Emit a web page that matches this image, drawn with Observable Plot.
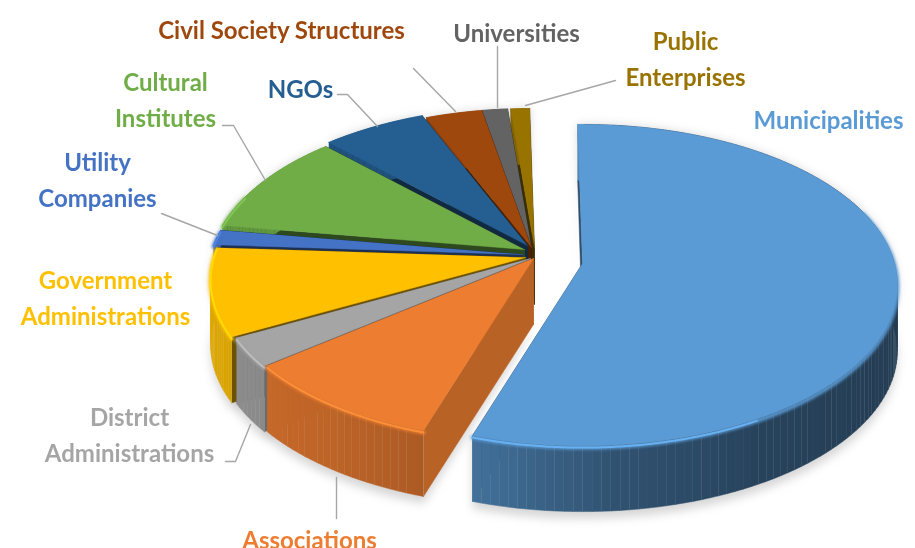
<!DOCTYPE html>
<html>
<head>
<meta charset="utf-8">
<script src="https://cdn.jsdelivr.net/npm/d3@7"></script>
<script src="https://cdn.jsdelivr.net/npm/@observablehq/plot@0.6"></script>
<style>html,body{margin:0;padding:0;background:#fff}</style>
</head>
<body>
<div id="chart"></div>
<script>
// ---- data (share of each category, %)
const categories = ["Municipalities","Associations","District\nAdministrations","Government\nAdministrations","Utility\nCompanies","Cultural\nInstitutes","NGOs","Civil Society Structures","Universities","Public\nEnterprises"];
const values = [55.2, 9.3, 2.9, 8.8, 1.5, 10.2, 6.1, 3.3, 1.5, 1.1];
const colors = ["#5B9BD5","#ED7D31","#A5A5A5","#FFC000","#4472C4","#70AD47","#255E91","#9E480E","#636363","#997300"];

// ---- layout of the pseudo-3D pie
const W = 915, H = 548;
const pieCentre = [536, 256], Rx = 312, Ry = 157.7, persp = 0.134;
const explode = [[46,7],[-3,2],[-6,2],[-11,1],[-14,-2],[-12,-7],[-9,-11],[-5,-9],[-5,-9],[-2,-9]];
const wallShade = [0.5,0.78,0.65,0.42,0.42,0.42,0.45,0.45,0.4,0.4];
const labelX = [828,309,129,105,97,165,300,281,516,685];
const labelY = [117,537,432,295,177,97,86,27,30,56];
const leaders = [
  [[525,105],[615,80]],
  [[497,107],[497,46]],
  [[455,111],[413,68]],
  [[377,126],[347,94],[337,94]],
  [[265,180],[233,125],[222,125]],
  [[217,235],[161,213]],
  [[250,424],[235,461],[225,461]],
  [[336,477],[336,518]]
];

const rad = d => d * Math.PI / 180;
const pie = d3.pie().sort(null).value(d => d).startAngle(rad(-1)).endAngle(rad(359))(values);
const sideShade = d3.scaleLinear().domain([0,100,150,175,197,215,240,260,360]).range([.38,.38,.43,.53,.72,.8,.85,.87,.87]).clamp(true);

function proj(t, c, r = 1) {
  const X = r * Math.sin(t), Z = r * Math.cos(t), s = 1 / (1 + persp * Z);
  return [c[0] + Rx * X * s, c[1] - Ry * Z * s];
}
const dropAt = t => 66 - 10 * Math.max(Math.cos(t), 0);
const shade = (col, m) => { const c = d3.rgb(col); return d3.rgb(c.r*m, c.g*m, c.b*m).formatHex(); };
const seq = (a, b, step) => { const n = Math.max(1, Math.ceil((b - a) / step)); return d3.range(n + 1).map(i => a + (b - a) * i / n); };

const S = { x:{type:"linear",domain:[0,W],range:[0,W],axis:null}, y:{type:"linear",domain:[0,H],range:[0,H],axis:null} };
const xy = {x:"x", y:"y"};
const poly = (rows, id, fill, pts) => pts.forEach(p => rows.push({x:p[0], y:p[1], id, fill}));

const shadowRows = [], marks = [];
const order = d3.range(values.length).reverse();

for (const i of order) {
  const col = colors[i], a0 = pie[i].startAngle, a1 = pie[i].endAngle;
  const c = [pieCentre[0] + explode[i][0], pieCentre[1] + explode[i][1]];
  const apexDrop = Math.min(66, 66 + explode[i][1]);
  const rows = [];
  const wall = (t, id) => {
    const p = proj(t, c), d = dropAt(t);
    poly(rows, id, shade(col, wallShade[i]), [p, c, [c[0], c[1] + apexDrop], [p[0], p[1] + d]]);
  };
  wall(a1, "wall-end");
  wall(a0, "wall-start");
  const ts = seq(a0, a1, rad(1.5));
  ts.slice(1).forEach((t, j) => {
    const t0 = ts[j], p0 = proj(t0, c), p1 = proj(t, c);
    const deg = ((t0 + t) / 2 * 180 / Math.PI + 360) % 360;
    poly(rows, "side-" + j, shade(col, sideShade(deg)), [p0, p1, [p1[0], p1[1] + dropAt(t)], [p0[0], p0[1] + dropAt(t0)]]);
  });
  const fine = seq(a0, a1, rad(0.5));
  const outline = [c, ...fine.map(t => proj(t, c))];
  poly(rows, "top", col, outline);
  marks.push(Plot.line(rows, {...xy, z:"id", fill:"fill", stroke:"fill", strokeWidth:0.5, curve:"linear"}));

  // soft edge between the top face and the wall (only on the visible front)
  const rim = fine.filter(t => Math.cos(t) < 0.35).map(t => { const p = proj(t, c); return {x:p[0], y:p[1] + 2}; });
  if (rim.length > 1) {
    marks.push(Plot.line(rim, {...xy, stroke:col, strokeWidth:4, imageFilter:"blur(1.4px)", curve:"linear"}));
    const hi = rim.filter((_, j) => { const d = (fine.filter(t => Math.cos(t) < 0.35)[j] * 180 / Math.PI + 360) % 360; return d > 150; });
    if (hi.length > 1) marks.push(Plot.line(hi, {...xy, stroke:d3.rgb(col).brighter(0.45).formatHex(), strokeWidth:2, imageFilter:"blur(0.7px)", strokeOpacity:0.85, curve:"linear"}));
  }

  // soft drop shadow
  const back = fine.slice().reverse().map(t => { const p = proj(t, c); return [p[0], p[1] + dropAt(t) + 7]; });
  poly(shadowRows, "s" + i, "#7f7f7f", [[c[0], c[1] + apexDrop + 4], ...fine.map(t => proj(t, c)), ...back]);
}

const labelTable = categories.map((text, i) => ({text, x:labelX[i], y:labelY[i], color:colors[i]}));
const leaderRows = leaders.flatMap((pts, k) => pts.map(p => ({x:p[0], y:p[1], k})));

const chart = Plot.plot({
  width:W, height:H, margin:0, ...S,
  color:{type:"identity"},
  style:{background:"#fff", filter:"blur(0.35px)"},
  marks:[
    Plot.line(shadowRows, {...xy, z:"id", fill:"#7f7f7f", fillOpacity:0.32, stroke:"none", imageFilter:"blur(5px)", curve:"linear"}),
    ...marks,
    Plot.line(leaderRows, {...xy, z:"k", stroke:"#a6a6a6", strokeWidth:1.4, curve:"linear"}),
    Plot.text(labelTable, {...xy, text:"text", fill:"color", fontSize:24, fontWeight:700, fontFamily:"Lato", lineHeight:1.5, textAnchor:"middle", lineAnchor:"middle"})
  ]
});
document.getElementById("chart").append(chart);
</script>
</body>
</html>
